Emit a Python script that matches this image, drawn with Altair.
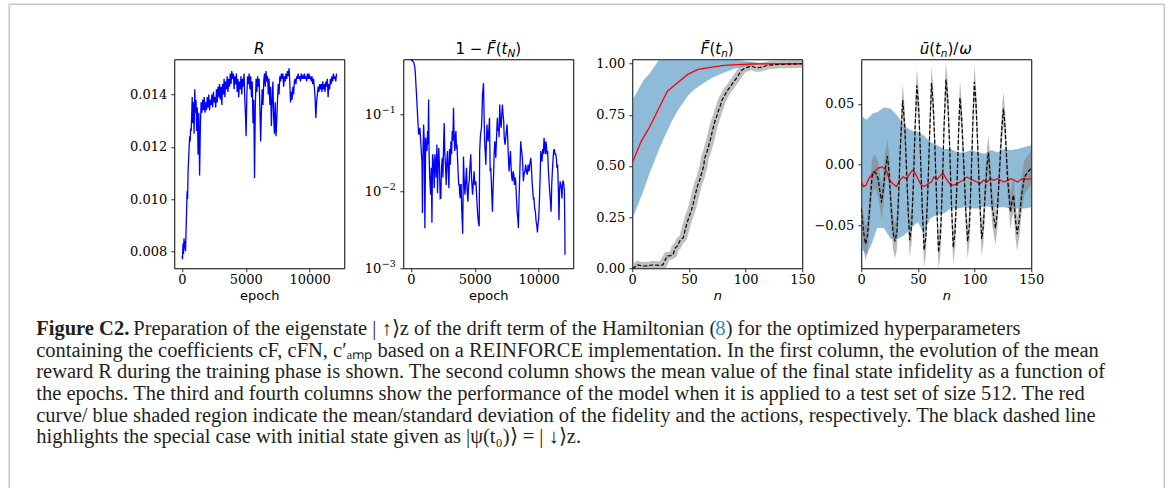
import altair as alt
import pandas as pd

# ---------------- data ----------------
# Panel 1: mean reward R vs epoch
r_epoch = [0, 40, 80, 120, 160, 200, 240, 280, 320,
           360, 400, 440, 480, 520, 560, 600, 640, 680, 720, 760,
           800, 850, 900, 950, 1000, 1050, 1100, 1150, 1200,
           1260, 1320, 1380, 1440,
           1500, 1560, 1620, 1680, 1740, 1800, 1860, 1920, 1980, 2040, 2100, 2160, 2220, 2280, 2340, 2400,
           2460, 2520, 2580, 2640, 2700, 2760, 2820, 2880, 2940, 3000, 3060, 3120, 3180, 3240, 3300, 3360,
           3420, 3480, 3540, 3600, 3660, 3720, 3780, 3840, 3900, 3960, 4020, 4080, 4140, 4200, 4260, 4320,
           4380, 4440, 4500, 4560, 4620, 4680, 4740, 4800, 4860, 4920, 4980,
           5020,
           5080, 5140, 5200, 5260, 5320, 5380, 5440, 5500, 5560, 5620, 5680, 5740, 5800, 5860, 5920, 5980,
           6040, 6100, 6160, 6220, 6280, 6340, 6400, 6460, 6520, 6580, 6640, 6700, 6760, 6820, 6880, 6940,
           7000, 7060, 7120, 7180, 7240, 7300, 7360, 7420, 7480, 7540, 7600, 7660, 7720, 7780, 7840, 7900,
           7960, 8020, 8080, 8140, 8200, 8260, 8320, 8380, 8440, 8500, 8560, 8620, 8680, 8740, 8800, 8860,
           8920, 8980, 9040, 9100, 9160, 9220, 9280, 9340, 9400, 9460, 9520, 9580, 9640, 9700, 9760, 9820,
           9880, 9940, 10000, 10060, 10120, 10180, 10240, 10300, 10360, 10420, 10480, 10540, 10600, 10660, 10720, 10780,
           10840, 10900, 10960, 11020, 11080, 11140, 11200, 11260, 11320, 11380, 11440, 11500, 11560, 11620, 11680, 11740,
           11800, 11860, 11920, 11980, 12040, 12100]
r_value = [0.0078, 0.0077, 0.0083, 0.0079, 0.0085, 0.0081, 0.0084, 0.0080, 0.0088,
           0.0095, 0.0103, 0.0100, 0.0111, 0.0115, 0.0120, 0.0124, 0.0122, 0.0127, 0.0126, 0.0132,
           0.0139, 0.0129, 0.0137, 0.0125, 0.0142, 0.0133, 0.0138, 0.0126, 0.0135,
           0.0117, 0.0133, 0.0109, 0.0128,
           0.0137, 0.0133, 0.0138, 0.0134, 0.0139, 0.0133, 0.0137, 0.0134, 0.0139, 0.0135, 0.0140, 0.0134, 0.0138, 0.0136, 0.0140, 0.0135,
           0.0141, 0.0137, 0.0139, 0.0135, 0.0142, 0.0137, 0.0143, 0.0139, 0.0144, 0.0138, 0.0143, 0.0136, 0.0144, 0.0140, 0.0146, 0.0139,
           0.0145, 0.0142, 0.0147, 0.0141, 0.0146, 0.0143, 0.0148, 0.0144, 0.0149, 0.0146, 0.0148, 0.0142, 0.0147, 0.0144, 0.0148, 0.0141,
           0.0146, 0.0139, 0.0145, 0.0142, 0.0147, 0.0140, 0.0146, 0.0143, 0.0148, 0.0138, 0.0131,
           0.0124,
           0.0140, 0.0147, 0.0144, 0.0148, 0.0142, 0.0147, 0.0139, 0.0145, 0.0129, 0.0138, 0.0108, 0.0135, 0.0146, 0.0141, 0.0147, 0.0143,
           0.0146, 0.0135, 0.0122, 0.0134, 0.0142, 0.0136, 0.0145, 0.0148, 0.0143, 0.0149, 0.0145, 0.0147, 0.0140, 0.0146, 0.0136, 0.0143,
           0.0128, 0.0138, 0.0145, 0.0131, 0.0125, 0.0137, 0.0124, 0.0130, 0.0138, 0.0144, 0.0140, 0.0147, 0.0145, 0.0148, 0.0146, 0.0148,
           0.0143, 0.0147, 0.0145, 0.0148, 0.0146, 0.0149, 0.0147, 0.0150, 0.0145, 0.0137, 0.0141, 0.0138, 0.0143, 0.0140, 0.0145, 0.0146,
           0.0144, 0.0147, 0.0146, 0.0148, 0.0146, 0.0147, 0.0145, 0.0148, 0.0146, 0.0147, 0.0146, 0.0148, 0.0146, 0.0147, 0.0145, 0.0148,
           0.0146, 0.0148, 0.0146, 0.0147, 0.0145, 0.0147, 0.0144, 0.0146, 0.0143, 0.0139, 0.0131, 0.0137, 0.0140, 0.0143, 0.0141, 0.0144,
           0.0142, 0.0144, 0.0141, 0.0145, 0.0142, 0.0144, 0.0141, 0.0145, 0.0143, 0.0146, 0.0139, 0.0144, 0.0142, 0.0146, 0.0144, 0.0147,
           0.0145, 0.0148, 0.0146, 0.0147, 0.0145, 0.0148]

# Panel 2: mean final-state infidelity 1 - F(t_N) vs epoch (log axis)
inf_epoch = [0, 80, 160, 240, 300, 340, 400, 440, 500, 560, 600, 650, 700, 740, 780, 820, 860, 900, 940, 990,
             1040, 1090, 1150, 1200, 1250, 1300, 1340, 1380, 1420, 1460, 1500, 1540, 1590, 1640, 1690, 1740, 1780,
             1820, 1870, 1920, 1970, 2030, 2080, 2130, 2180, 2230, 2290, 2340, 2390, 2450, 2500, 2560, 2600, 2650,
             2700, 2760, 2810, 2860, 2920, 2970, 3020, 3080, 3125, 3180, 3230, 3280, 3330, 3380, 3430, 3470, 3520,
             3560, 3600, 3650, 3700, 3740, 3780, 3820, 3860, 3900, 3930, 3970, 4000, 4050, 4110, 4160, 4220, 4270,
             4350, 4400, 4460, 4510, 4560, 4610, 4680, 4740, 4820, 4870, 4940, 5000, 5080, 5150, 5210, 5270, 5340,
             5380, 5430, 5480, 5520, 5560, 5600, 5640, 5680, 5720, 5770, 5820, 5860, 5900, 5950, 6000, 6040, 6090,
             6150, 6200, 6250, 6290, 6340, 6380, 6420, 6470, 6510, 6560, 6600, 6640, 6690, 6740, 6770, 6820, 6860,
             6900, 6950, 7000, 7060, 7110, 7160, 7210, 7260, 7300, 7360, 7420, 7470, 7520, 7570, 7620, 7680, 7730,
             7790, 7840, 7890, 7940, 8000, 8050, 8100, 8150, 8200, 8260, 8310, 8360, 8410, 8460, 8510, 8550, 8590,
             8640, 8700, 8760, 8800, 8850, 8920, 8980, 9040, 9110, 9170, 9240, 9300, 9380, 9430, 9480, 9520, 9580,
             9630, 9680, 9740, 9800, 9860, 9900, 9950, 10000, 10060, 10110, 10160, 10210, 10260, 10310, 10360,
             10420, 10470, 10520, 10560, 10600, 10650, 10700, 10750, 10810, 10860, 10920, 10970, 11020, 11070,
             11120, 11170, 11220, 11280, 11330, 11380, 11430, 11480, 11540, 11590, 11630, 11680, 11730, 11770,
             11820, 11860, 11900, 11930, 11970, 12010, 12040, 12060]
inf_value = [0.49, 0.50, 0.48, 0.45, 0.40, 0.34, 0.22, 0.17, 0.108, 0.070, 0.054, 0.060, 0.066, 0.050, 0.040, 0.030, 0.024, 0.0052, 0.030, 0.073,
             0.044, 0.0033, 0.049, 0.036, 0.033, 0.060, 0.040, 0.153, 0.030, 0.016, 0.012, 0.009, 0.020, 0.0039, 0.030, 0.025, 0.018,
             0.0109, 0.030, 0.024, 0.015, 0.040, 0.0094, 0.025, 0.036, 0.020, 0.008, 0.0081, 0.020, 0.027, 0.015, 0.045, 0.076, 0.030,
             0.022, 0.012, 0.025, 0.033, 0.018, 0.0109, 0.035, 0.022, 0.044, 0.030, 0.060, 0.045, 0.12, 0.050, 0.033, 0.050, 0.060,
             0.035, 0.040, 0.025, 0.016, 0.0121, 0.0121, 0.0090, 0.0081, 0.0121, 0.0121, 0.006, 0.0045, 0.0028, 0.028, 0.015, 0.0090, 0.012,
             0.020, 0.010, 0.0073, 0.012, 0.0134, 0.020, 0.030, 0.015, 0.0090, 0.012, 0.018, 0.012, 0.0134, 0.008, 0.0054, 0.004, 0.0035,
             0.033, 0.050, 0.060, 0.066, 0.10, 0.18, 0.21, 0.25, 0.10, 0.044, 0.030, 0.022, 0.040, 0.073, 0.05, 0.044, 0.060,
             0.089, 0.018, 0.020, 0.0134, 0.008, 0.0054, 0.010, 0.0163, 0.030, 0.044, 0.035, 0.027, 0.045, 0.075, 0.089, 0.060, 0.066,
             0.050, 0.132, 0.080, 0.066, 0.100, 0.132, 0.098, 0.080, 0.050, 0.040, 0.049, 0.060, 0.073, 0.050, 0.030, 0.018, 0.025,
             0.033, 0.020, 0.015, 0.0134, 0.018, 0.0163, 0.012, 0.015, 0.0134, 0.008, 0.0054, 0.0045, 0.0033, 0.008, 0.0147, 0.025, 0.044,
             0.035, 0.030, 0.020, 0.0134, 0.0163, 0.018, 0.022, 0.018, 0.0163, 0.022, 0.018, 0.022, 0.027, 0.020, 0.0134, 0.0109, 0.008,
             0.0081, 0.006, 0.0054, 0.004, 0.0035, 0.0029, 0.0038, 0.0045, 0.008, 0.015, 0.033, 0.027, 0.024, 0.035, 0.030,
             0.049, 0.035, 0.030, 0.044, 0.040, 0.030, 0.033, 0.020, 0.0134, 0.010, 0.0073, 0.0054, 0.012, 0.018,
             0.025, 0.033, 0.035, 0.030, 0.030, 0.027, 0.020, 0.022, 0.010, 0.0042, 0.010, 0.0134, 0.012, 0.0109,
             0.008, 0.012, 0.0134, 0.0134, 0.012, 0.010, 0.004, 0.0015]
log_ticks = [0.001, 0.01, 0.1]
log_tick_exponents = ["−3", "−2", "−1"]

# Panel 3: fidelity F(t_n) on the test set
f_band_n = [0, 5, 10, 15, 20, 25, 30, 35, 40, 45, 50, 55, 60, 70, 80, 90, 100, 110, 120, 130, 140, 150]
f_band_lo = [0.24, 0.31, 0.38, 0.46, 0.53, 0.60, 0.66, 0.72, 0.77, 0.81, 0.85, 0.875, 0.895, 0.93, 0.955, 0.975,
             0.988, 0.995, 0.998, 0.999, 1.0, 1.0]
f_band_hi = [0.82, 0.87, 0.92, 0.95, 0.99, 1.03, 1.06, 1.08, 1.09, 1.09, 1.08, 1.075, 1.065, 1.05, 1.035, 1.022,
             1.012, 1.006, 1.003, 1.001, 1.0, 1.0]
f_mean_n = [0, 8, 15, 22, 31, 40, 49, 58, 69, 81, 96, 110, 150]
f_mean = [0.516, 0.622, 0.687, 0.765, 0.866, 0.907, 0.948, 0.972, 0.982, 0.992, 0.997, 0.999, 1.0]
f_spec_n = [0, 3, 5, 8, 10, 14, 17, 20, 24, 27, 29, 31, 34, 36, 38, 40, 42, 45, 48, 50, 52, 54, 55, 57, 58, 60,
            61, 63, 64, 66, 67, 69, 70, 72, 73, 75, 76, 78, 79, 81, 82, 84, 86, 88, 90, 92, 95, 97, 100, 103, 105,
            108, 110, 113, 115, 118, 120, 125, 130, 140, 150]
f_spec = [0.0, 0.008, 0.016, 0.012, 0.011, 0.012, 0.016, 0.016, 0.014, 0.016, 0.04, 0.06, 0.062, 0.068, 0.10, 0.11,
          0.134, 0.15, 0.215, 0.25, 0.28, 0.32, 0.345, 0.39, 0.41, 0.44, 0.46, 0.50, 0.54, 0.57, 0.59, 0.63, 0.655,
          0.70, 0.72, 0.75, 0.77, 0.80, 0.82, 0.84, 0.85, 0.87, 0.883, 0.90, 0.915, 0.93, 0.956, 0.97, 0.98, 0.985,
          0.989, 0.983, 0.98, 0.982, 0.984, 0.99, 0.993, 0.995, 0.997, 0.998, 1.0]

# Panel 4: actions u(t_n)/omega on the test set
u_band_n = [0, 5, 10, 14, 20, 26, 32, 38, 44, 50, 55, 61, 67, 73, 79, 85, 91, 97, 103, 109, 115, 120, 126, 132, 138, 144, 150]
u_band_hi = [0.040, 0.037, 0.042, 0.043, 0.047, 0.046, 0.040, 0.032, 0.028, 0.027, 0.024, 0.0186, 0.016, 0.013, 0.013,
             0.010, 0.010, 0.012, 0.010, 0.009, 0.012, 0.010, 0.013, 0.012, 0.013, 0.0145, 0.016]
u_band_lo = [-0.069, -0.074, -0.063, -0.052, -0.052, -0.061, -0.061, -0.058, -0.052, -0.047, -0.056, -0.044, -0.041,
             -0.040, -0.036, -0.036, -0.035, -0.036, -0.036, -0.034, -0.035, -0.035, -0.035, -0.036, -0.036, -0.036, -0.035]
u_mean_n = [0, 2, 4, 7, 10, 13, 15, 18, 21, 23, 25, 28, 31, 34, 37, 40, 43, 45, 47, 50, 53, 56, 59, 62, 64, 67, 70,
            72, 75, 78, 81, 84, 87, 90, 93, 96, 99, 102, 105, 108, 111, 114, 117, 120, 123, 126, 129, 132, 135, 138,
            141, 144, 147, 150]
u_mean = [-0.014, -0.018, -0.017, -0.011, -0.007, -0.0046, -0.0027, -0.0019, -0.0033, -0.007, -0.0128, -0.0156, -0.018,
          -0.0128, -0.010, -0.0115, -0.0074, -0.0046, -0.006, -0.0115, -0.0169, -0.0177, -0.0156, -0.0142, -0.0101,
          -0.012, -0.0087, -0.0068, -0.0115, -0.0156, -0.0169, -0.016, -0.0142, -0.0128, -0.0101, -0.0115, -0.0128,
          -0.0142, -0.0156, -0.0128, -0.0142, -0.0115, -0.0128, -0.0115, -0.0128, -0.0142, -0.0128, -0.0115, -0.0128,
          -0.0142, -0.012, -0.0115, -0.012, -0.0115]
u_spec_n = [0, 2, 3.8, 5.5, 7.5, 9.5, 11, 13, 15, 16.5, 18, 19.5, 21, 23, 24.5, 26, 28, 29.8, 31.5, 33, 34.5, 36.6,
            38.5, 40, 41.5, 42.8, 44.5, 46, 47.5, 49, 50.5, 52, 53.8, 55.5, 57, 58.8, 60.5, 62, 63.5, 65, 66.7, 68.2,
            69.8, 71.5, 73, 74.7, 76.3, 78, 79.7, 81.2, 82.8, 84.5, 86, 87.1, 88.5, 90.5, 92.3, 93.9, 95.5, 97, 98.5,
            99.8, 101.3, 103, 104.8, 106.3, 107.8, 109.5, 111, 112.2, 113.5, 115.5, 118.4, 120, 122, 124, 125.5, 127,
            129, 131.7, 133, 134.5, 136, 137.6, 139.5, 141.5, 144, 147, 150]
u_spec = [-0.036, -0.055, -0.065, -0.058, -0.035, -0.010, -0.006, -0.007, -0.012, -0.022, -0.031, -0.020, -0.005, 0.007,
          -0.005, -0.030, -0.055, -0.063, -0.055, -0.025, 0.015, 0.053, 0.030, -0.005, -0.040, -0.062, -0.050, -0.015,
          0.030, 0.065, 0.050, 0.015, -0.035, -0.070, -0.060, -0.020, 0.030, 0.067, 0.050, 0.015, -0.035, -0.072,
          -0.060, -0.020, 0.030, 0.070, 0.055, 0.015, -0.035, -0.068, -0.055, -0.015, 0.030, 0.055, 0.040, 0.000,
          -0.040, -0.063, -0.050, -0.010, 0.035, 0.068, 0.050, 0.010, -0.035, -0.061, -0.050, -0.020, 0.000, 0.010,
          -0.005, -0.035, -0.052, -0.040, -0.005, 0.030, 0.046, 0.030, -0.010, -0.039, -0.030, -0.025, -0.045,
          -0.057, -0.045, -0.025, -0.010, -0.006, -0.003]
u_spec_spread = 0.014  # half-height of the grey band around the special case

caption_bold = "Figure C2."
caption_first_a = "Preparation of the eigenstate | ↑⟩z of the drift term of the Hamiltonian ("
caption_first_ref = "8"
caption_first_b = ") for the optimized hyperparameters"
caption_lines = [
    "containing the coefficients cF, cFN, c′ₐₘₚ based on a REINFORCE implementation. In the first column, the evolution of the mean",
    "reward R during the training phase is shown. The second column shows the mean value of the final state infidelity as a function of",
    "the epochs. The third and fourth columns show the performance of the model when it is applied to a test set of size 512. The red",
    "curve/ blue shaded region indicate the mean/standard deviation of the fidelity and the actions, respectively. The black dashed line",
    "highlights the special case with initial state given as |ψ(t₀)⟩ = | ↓⟩z.",
]

# ---------------- styling ----------------
W, H = 170, 209
SANS = "DejaVu Sans"
SERIF_TICK = "DejaVu Serif"
BAND = "#1f77b4"
FRAME = alt.ViewBackground(stroke="black", strokeWidth=1)


def x_axis(values, title, italic=False):
    return alt.Axis(values=values, title=title, format="d", grid=False, domain=False, tickSize=3.5,
                    tickColor="black", tickWidth=0.8, labelFont=SERIF_TICK, labelFontSize=13,
                    labelColor="black", labelPadding=2, labelFlush=False, labelOverlap=False,
                    titleFont=SANS, titleFontSize=13, titleFontWeight="normal",
                    titleFontStyle="italic" if italic else "normal", titleColor="black", titlePadding=3)


def y_axis(values, fmt=None, expr=None, labels=True):
    kw = dict(values=values, title=None, grid=False, domain=False, tickSize=3.5, tickColor="black",
              tickWidth=0.8, labelFont=SERIF_TICK, labelFontSize=13, labelColor="black",
              labelPadding=4, labelFlush=False, labelOverlap=False, labels=labels)
    if fmt:
        kw["format"] = fmt
    if expr:
        kw["labelExpr"] = expr
    return alt.Axis(**kw)


ADV = {"1": 0.636, " ": 0.318, "−": 0.838, "F̄": 0.575, "(": 0.39, ")": 0.39, "t": 0.392,
       "N": 0.748, "n": 0.634, "R": 0.695, "ū": 0.634, "/": 0.40, "ω": 0.90}


def title_marks(pieces, size=15):
    sizes = [size * 0.7 if sub else size for _, _, sub in pieces]
    widths = [ADV[t] * s for (t, _, _), s in zip(pieces, sizes)]
    x = W / 2 - sum(widths) / 2
    out = []
    for (t, it, sub), s, w in zip(pieces, sizes, widths):
        out.append(alt.Chart(alt.Data(values=[{}])).mark_text(
            align="left", baseline="alphabetic", font=SANS, fontSize=s,
            fontStyle="italic" if it else "normal", color="black", text=t, dy=3 if sub else 0
        ).encode(x=alt.value(x), y=alt.value(-5)))
        x += w
    return out


# ---------------- caption and frame (drawn from panel 1's origin) ----------------
one = alt.Data(values=[{}])
BORDER = "#c8c8c8"
CAP_FONT = "Liberation Serif"
CAP_SIZE = 20.5
CAP_COLOR = "#231f20"
cap_y = alt.Scale(domain=[0, 5], range=[270, 378])
df_cap = pd.DataFrame({"line": [1, 2, 3, 4, 5], "text": caption_lines})
df_cap0 = pd.DataFrame({"line": [0], "text": [caption_bold]})
df_cap0a = pd.DataFrame({"line": [0], "text": [caption_first_a]})
df_cap0r = pd.DataFrame({"line": [0], "text": [caption_first_ref]})
df_cap0b = pd.DataFrame({"line": [0], "text": [caption_first_b]})
X_FIRST = -41
X_REF = X_FIRST + 582
X_AFTER = X_REF + 10.4


def cap_text(df, x, **kw):
    return alt.Chart(df).mark_text(align="left", baseline="middle", font=CAP_FONT, fontSize=CAP_SIZE,
                                   **kw).encode(
        x=alt.value(x), y=alt.Y("line:Q", scale=cap_y, axis=None), text="text:N")


caption_layers = [
    alt.Chart(one).mark_rule(color=BORDER, strokeWidth=1.5).encode(
        x=alt.value(-165), y=alt.value(-55), y2=alt.value(429)),
    alt.Chart(one).mark_rule(color=BORDER, strokeWidth=1.5).encode(
        x=alt.value(-165), x2=alt.value(990), y=alt.value(-55)),
    alt.Chart(one).mark_rule(color=BORDER, strokeWidth=1.5).encode(
        x=alt.value(990), y=alt.value(-55), y2=alt.value(429)),
    cap_text(df_cap0, -138, fontWeight="bold", color=CAP_COLOR),
    cap_text(df_cap0a, X_FIRST, color=CAP_COLOR),
    cap_text(df_cap0r, X_REF, color="#2a8bc9"),
    cap_text(df_cap0b, X_AFTER, color=CAP_COLOR),
    cap_text(df_cap, -138, color=CAP_COLOR),
]

# ---------------- panel 1 ----------------
df_r = pd.DataFrame({"epoch": r_epoch, "R": r_value})
p1 = alt.layer(
    alt.Chart(df_r).mark_line(color="#0000ff", strokeWidth=1.3, clip=True).encode(
        x=alt.X("epoch:Q", scale=alt.Scale(domain=[-605, 12705], nice=False, zero=False),
                axis=x_axis([0, 5000, 10000], "epoch")),
        y=alt.Y("R:Q", scale=alt.Scale(domain=[0.00735, 0.01535], nice=False, zero=False),
                axis=y_axis([0.008, 0.010, 0.012, 0.014], fmt=".3f"))),
    *title_marks([("R", True, False)]),
    *caption_layers,
).resolve_scale(y="independent").properties(width=W, height=H, view=FRAME)

# ---------------- panel 2 ----------------
df_inf = pd.DataFrame({"epoch": inf_epoch, "inf": inf_value})
df_logt = pd.DataFrame({"v": log_ticks, "e": log_tick_exponents})
ys2 = alt.Scale(type="log", domain=[0.001, 0.51], nice=False)
ax2y = y_axis(log_ticks, labels=False)
p2 = alt.layer(
    alt.Chart(df_inf).mark_line(color="#0000ff", strokeWidth=1.3, clip=True).encode(
        x=alt.X("epoch:Q", scale=alt.Scale(domain=[-605, 12705], nice=False, zero=False),
                axis=x_axis([0, 5000, 10000], "epoch")),
        y=alt.Y("inf:Q", scale=ys2, axis=ax2y)),
    alt.Chart(df_logt).mark_text(align="right", baseline="middle", font=SERIF_TICK, fontSize=13,
                                 color="black", text="10", dy=1).encode(
        x=alt.value(-22), y=alt.Y("v:Q", scale=ys2, axis=ax2y)),
    alt.Chart(df_logt).mark_text(align="left", baseline="middle", font=SERIF_TICK, fontSize=9.5,
                                 color="black", dy=-4).encode(
        x=alt.value(-21.5), y=alt.Y("v:Q", scale=ys2, axis=ax2y), text="e:N"),
    *title_marks([("1", False, False), (" ", False, False), ("−", False, False), (" ", False, False),
                  ("F̄", True, False), ("(", False, False), ("t", True, False), ("N", True, True),
                  (")", False, False)])
).properties(width=W, height=H, view=FRAME)

# ---------------- panel 3 ----------------
xs3 = alt.Scale(domain=[0, 150], nice=False, zero=False)
ys3 = alt.Scale(domain=[0, 1.022], nice=False, zero=False)
ax3x = x_axis([0, 50, 100, 150], "n", italic=True)
ax3y = y_axis([0, 0.25, 0.5, 0.75, 1.0], fmt=".2f")
df_f_band = pd.DataFrame({"n": f_band_n, "lo": f_band_lo, "hi": f_band_hi})
df_f_mean = pd.DataFrame({"n": f_mean_n, "v": f_mean})
df_f_spec = pd.DataFrame({"n": f_spec_n, "v": f_spec})
p3 = alt.layer(
    alt.Chart(df_f_band).mark_area(color=BAND, opacity=0.5, clip=True).encode(
        x=alt.X("n:Q", scale=xs3, axis=ax3x), y=alt.Y("lo:Q", scale=ys3, axis=ax3y), y2="hi:Q"),
    alt.Chart(df_f_spec).mark_line(color="gray", opacity=0.5, strokeWidth=8, clip=True).encode(
        x=alt.X("n:Q", scale=xs3, axis=ax3x), y=alt.Y("v:Q", scale=ys3, axis=ax3y)),
    alt.Chart(df_f_mean).mark_line(color="red", strokeWidth=1.3, clip=True).encode(
        x=alt.X("n:Q", scale=xs3, axis=ax3x), y=alt.Y("v:Q", scale=ys3, axis=ax3y)),
    alt.Chart(df_f_spec).mark_line(color="black", strokeWidth=1.2, strokeDash=[4, 2], clip=True).encode(
        x=alt.X("n:Q", scale=xs3, axis=ax3x), y=alt.Y("v:Q", scale=ys3, axis=ax3y)),
    *title_marks([("F̄", True, False), ("(", False, False), ("t", True, False), ("n", True, True),
                  (")", False, False)])
).properties(width=W, height=H, view=FRAME)

# ---------------- panel 4 ----------------
xs4 = alt.Scale(domain=[0, 150], nice=False, zero=False)
ys4 = alt.Scale(domain=[-0.085, 0.0866], nice=False, zero=False)
ax4x = x_axis([0, 50, 100, 150], "n", italic=True)
ax4y = y_axis([-0.05, 0.0, 0.05], expr="replace(format(datum.value, '.2f'), '-', '−')")
df_u_band = pd.DataFrame({"n": u_band_n, "lo": u_band_lo, "hi": u_band_hi})
df_u_mean = pd.DataFrame({"n": u_mean_n, "v": u_mean})
df_u_spec = pd.DataFrame({"n": u_spec_n, "v": u_spec})
p4 = alt.layer(
    alt.Chart(df_u_band).mark_area(color=BAND, opacity=0.5, clip=True).encode(
        x=alt.X("n:Q", scale=xs4, axis=ax4x), y=alt.Y("lo:Q", scale=ys4, axis=ax4y), y2="hi:Q"),
    alt.Chart(df_u_spec).transform_calculate(
        lo=f"datum.v - {u_spec_spread}", hi=f"datum.v + {u_spec_spread}"
    ).mark_area(color="gray", opacity=0.55, clip=True).encode(
        x=alt.X("n:Q", scale=xs4, axis=ax4x), y=alt.Y("lo:Q", scale=ys4, axis=ax4y), y2="hi:Q"),
    alt.Chart(df_u_mean).mark_line(color="red", strokeWidth=1.3, clip=True).encode(
        x=alt.X("n:Q", scale=xs4, axis=ax4x), y=alt.Y("v:Q", scale=ys4, axis=ax4y)),
    alt.Chart(df_u_spec).mark_line(color="black", strokeWidth=1.2, strokeDash=[4, 2], clip=True).encode(
        x=alt.X("n:Q", scale=xs4, axis=ax4x), y=alt.Y("v:Q", scale=ys4, axis=ax4y)),
    *title_marks([("ū", True, False), ("(", False, False), ("t", True, False), ("n", True, True),
                  (")", False, False), ("/", False, False), ("ω", True, False)])
).properties(width=W, height=H, view=FRAME)

chart = alt.hconcat(p1, p2, p3, p4, spacing=59, bounds="flush").properties(
    padding={"left": 7.25, "top": 2.25, "right": 0, "bottom": 0}
).configure(background="white")

chart.save("out.html", embed_options={"renderer": "svg", "actions": False})
